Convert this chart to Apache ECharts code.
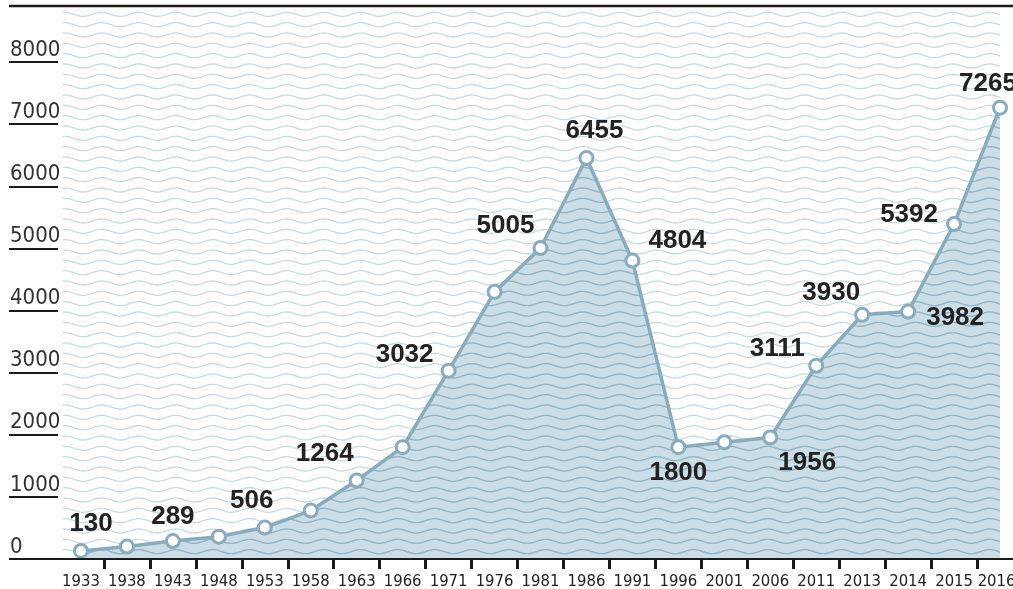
<!DOCTYPE html>
<html>
<head>
<meta charset="utf-8">
<script src="https://cdn.jsdelivr.net/npm/echarts@6/dist/echarts.min.js"></script>
<style>
html,body{margin:0;padding:0;background:#fff;}
#chart{width:1013px;height:589px;}
</style>
</head>
<body>
<div id="chart"></div>
<script>
// ---- data ----
const years = ['1933','1938','1943','1948','1953','1958','1963','1966','1971','1976','1981','1986','1991','1996','2001','2006','2011','2013','2014','2015','2016'];
const values = [130, 200, 289, 360, 506, 780, 1264, 1800, 3032, 4300, 5005, 6455, 4804, 1800, 1880, 1956, 3111, 3930, 3982, 5392, 7265];
const labeledYears = ['1933','1943','1953','1963','1971','1981','1986','1991','1996','2006','2011','2013','2014','2015','2016'];
const yTicks = [0, 1000, 2000, 3000, 4000, 5000, 6000, 7000, 8000];

// ---- styling ----
const narrow = "'Liberation Sans Narrow','Arial Narrow','DejaVu Sans Condensed',sans-serif";
const lineColor = '#88abbe';
const labelOffsets = {
  '1933':[10,-27], '1943':[0,-24], '1953':[-13,-27], '1963':[-32,-27],
  '1971':[-44,-16], '1981':[-35,-22], '1986':[8,-27], '1991':[45,-20],
  '1996':[0,26], '2006':[37,25], '2011':[-39,-17], '2013':[-31,-22],
  '2014':[47,6], '2015':[-45,-9], '2016':[-12,-24]
};

function wavePattern(bg, stroke, lw) {
  const c = document.createElement('canvas');
  c.width = 37; c.height = 31;
  const ctx = c.getContext('2d');
  if (bg) { ctx.fillStyle = bg; ctx.fillRect(0, 0, c.width, c.height); }
  ctx.strokeStyle = stroke; ctx.lineWidth = lw;
  for (let r = 0; r < 3; r++) {
    const y0 = 4 + r * 31 / 3;
    ctx.beginPath();
    for (let x = -2; x <= 39; x += 0.5) {
      const y = y0 + 2 * Math.sin(2 * Math.PI * x / 37);
      if (x === -2) ctx.moveTo(x, y); else ctx.lineTo(x, y);
    }
    ctx.stroke();
  }
  return c;
}
const outerWaves = wavePattern('#ffffff', '#c6dbe6', 1.3);
const innerWaves = wavePattern('#cbdde6', '#93b5c7', 1.4);

const seriesData = years.map((y, i) => {
  const d = { value: values[i] };
  if (labeledYears.indexOf(y) >= 0) {
    d.label = { show: true, position: 'inside', offset: labelOffsets[y] };
  }
  return d;
});

const lastYear = years[years.length - 1];

const chart = echarts.init(document.getElementById('chart'), null, { renderer: 'canvas' });
chart.setOption({
  animation: false,
  backgroundColor: '#ffffff',
  grid: { left: 58, width: 965, top: 62, bottom: 30, containLabel: false, outerBoundsMode: 'none' },
  graphic: [
    { type: 'rect', z: -10, silent: true, shape: { x: 63, y: 8, width: 937, height: 551 },
      style: { fill: { image: outerWaves, repeat: 'repeat' } } },
    { type: 'line', z: 10, silent: true, shape: { x1: 9, y1: 6, x2: 1013, y2: 6 },
      style: { stroke: '#1a1a1a', lineWidth: 2.5 } }
  ],
  xAxis: {
    type: 'category',
    data: years,
    boundaryGap: true,
    axisLine: { show: true, lineStyle: { color: '#1a1a1a', width: 2 } },
    axisTick: { show: true, length: 10, interval: function (i) { return i !== 0; },
      lineStyle: { color: '#1a1a1a', width: 3 } },
    axisLabel: {
      interval: 0, fontFamily: narrow, fontSize: 16.5, color: '#222', margin: 14,
      formatter: function (v) { return v === lastYear ? '{last|' + v + '}' : v; },
      rich: { last: { fontFamily: narrow, fontSize: 16.5, color: '#222', padding: [0, 7, 0, 0] } }
    },
    splitLine: { show: false },
    z: 5
  },
  yAxis: {
    type: 'value',
    min: 0, max: 8000, interval: 1000,
    axisLine: { show: false },
    axisTick: { show: true, length: 49, lineStyle: { color: '#1a1a1a', width: 2 } },
    axisLabel: {
      align: 'left', verticalAlign: 'bottom', margin: 48,
      fontFamily: narrow, fontSize: 22, color: '#333', padding: [0, 0, 1, 0],
      formatter: function (v) { return yTicks.indexOf(v) >= 0 ? String(v) : ''; }
    },
    splitLine: { show: false },
    z: 5
  },
  series: [{
    type: 'line',
    data: seriesData,
    symbol: 'circle',
    symbolSize: 13,
    showAllSymbol: true,
    lineStyle: { color: lineColor, width: 3.5 },
    itemStyle: { color: '#ffffff', borderColor: lineColor, borderWidth: 3 },
    areaStyle: { color: { image: innerWaves, repeat: 'repeat' }, opacity: 1 },
    label: {
      show: false,
      fontFamily: "'Liberation Sans',Arial,sans-serif",
      fontWeight: 'bold', fontSize: 26, color: '#222'
    },
    emphasis: { disabled: true },
    z: 3
  }]
});
</script>
</body>
</html>
